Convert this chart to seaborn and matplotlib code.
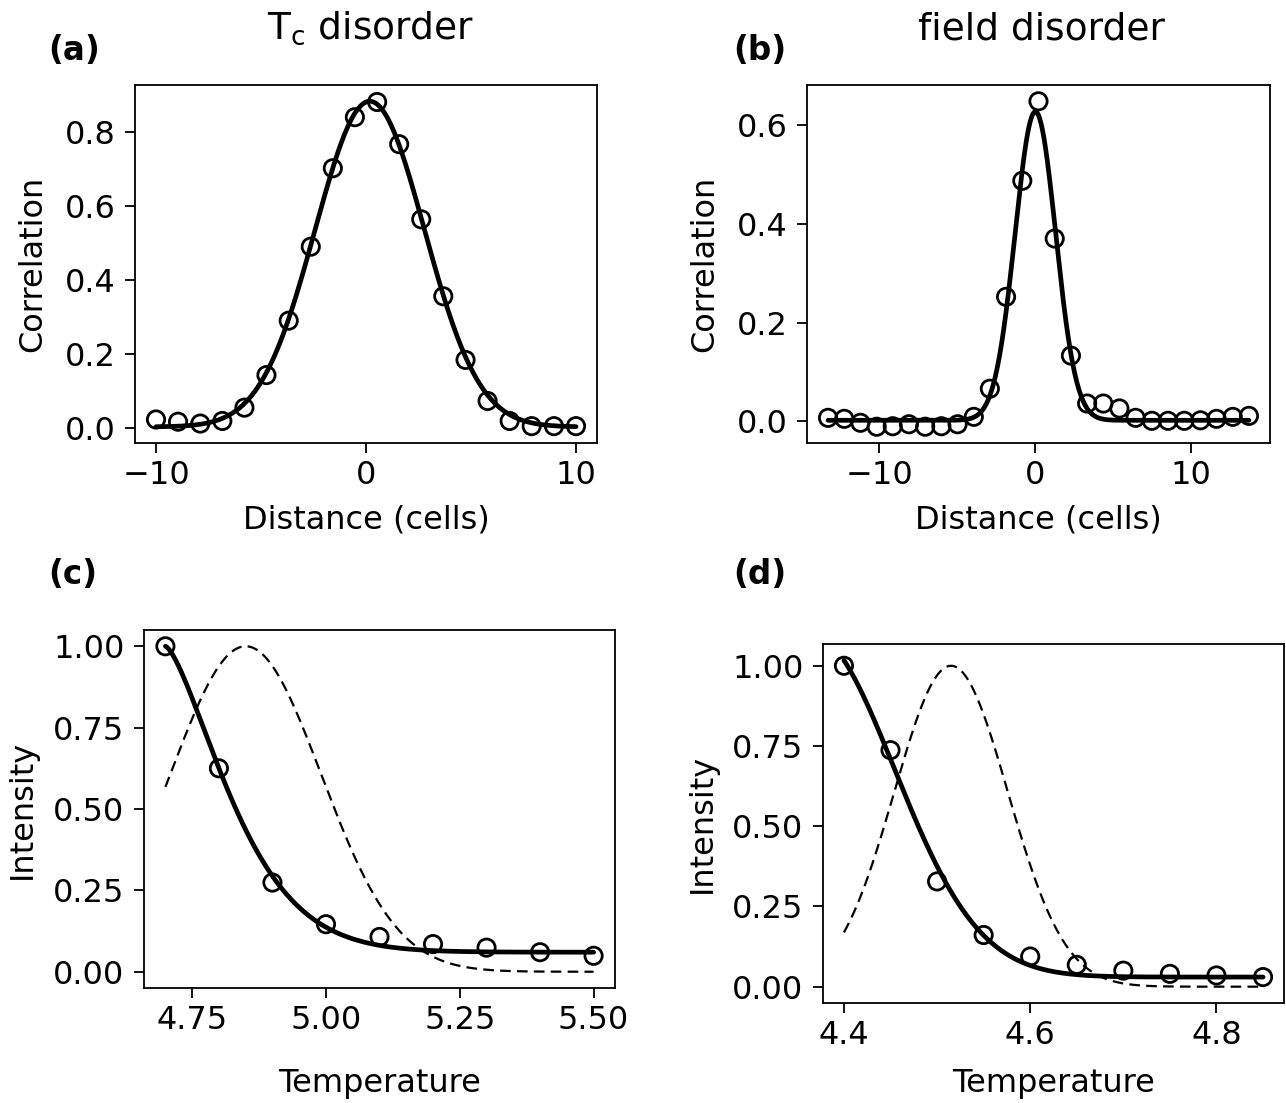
import numpy as np
import pandas as pd
import matplotlib
matplotlib.use("Agg")
import matplotlib.pyplot as plt
import seaborn as sns
from matplotlib.ticker import FormatStrFormatter

# ---------------- data ----------------
# (a) Tc disorder: correlation vs distance
a_x = [-10.0, -8.95, -7.89, -6.84, -5.79, -4.74, -3.68, -2.63, -1.58, -0.53,
       0.53, 1.58, 2.63, 3.68, 4.74, 5.79, 6.84, 7.89, 8.95, 10.0]
a_y = [0.024, 0.018, 0.013, 0.020, 0.056, 0.144, 0.291, 0.491, 0.703, 0.841,
       0.882, 0.768, 0.565, 0.357, 0.185, 0.074, 0.020, 0.006, 0.006, 0.006]
a_fit = dict(amp=0.88, mu=0.18, sigma=2.6, base=0.004)

# (b) field disorder: correlation vs distance
b_x = [-13.30, -12.26, -11.22, -10.18, -9.15, -8.11, -7.07, -6.03, -4.99, -3.95,
       -2.92, -1.88, -0.84, 0.20, 1.24, 2.28, 3.32, 4.36, 5.39, 6.43,
       7.47, 8.51, 9.55, 10.59, 11.62, 12.66, 13.70]
b_y = [0.007, 0.005, -0.003, -0.011, -0.010, -0.006, -0.011, -0.010, -0.006, 0.009,
       0.066, 0.252, 0.487, 0.648, 0.370, 0.133, 0.036, 0.036, 0.026, 0.007,
       0.001, 0.001, 0.001, 0.002, 0.005, 0.009, 0.011]
b_fit = dict(amp=0.625, mu=0.0, sigma=1.3, base=0.002)

# (c) Tc disorder: intensity vs temperature
c_x = [4.70, 4.80, 4.90, 5.00, 5.10, 5.20, 5.30, 5.40, 5.50]
c_y = [1.000, 0.625, 0.274, 0.146, 0.107, 0.085, 0.074, 0.060, 0.049]
c_fit = dict(amp=0.94, x0=4.70, rate=14.35, power=1.45, base=0.06)
c_dist = dict(amp=1.0, mu=4.85, sigma=0.141)

# (d) field disorder: intensity vs temperature
d_x = [4.40, 4.45, 4.50, 4.55, 4.60, 4.65, 4.70, 4.75, 4.80, 4.85]
d_y = [1.000, 0.737, 0.328, 0.161, 0.094, 0.068, 0.050, 0.040, 0.035, 0.030]
d_fit = dict(amp=1.072, mu=4.363, sigma=0.091, base=0.03)
d_dist = dict(amp=1.0, mu=4.515, sigma=0.061)

panel_labels = ["(a)", "(b)", "(c)", "(d)"]
titles = [r"$\mathregular{T_c}$ disorder", "field disorder"]


def gauss(x, amp, mu, sigma, base=0.0):
    return amp * np.exp(-(x - mu) ** 2 / (2 * sigma ** 2)) + base


def stretched(x, amp, x0, rate, power, base):
    return amp * np.exp(-rate * np.clip(x - x0, 0, None) ** power) + base


# ---------------- style ----------------
sns.set_theme(style="ticks", rc={
    "axes.linewidth": 1.3,
    "axes.edgecolor": "black",
    "axes.labelcolor": "black",
    "text.color": "black",
    "xtick.major.size": 7,
    "ytick.major.size": 7,
    "xtick.major.width": 1.3,
    "ytick.major.width": 1.3,
    "xtick.color": "black",
    "ytick.color": "black",
    "xtick.labelcolor": "black",
    "ytick.labelcolor": "black",
    "xtick.labelsize": 23,
    "ytick.labelsize": 23,
    "axes.labelsize": 23,
    "xtick.major.pad": 5,
    "ytick.major.pad": 7,
})
plt.rcParams["font.family"] = ["DejaVu Sans"]
plt.rcParams["mathtext.default"] = "regular"

W, H = 1286, 1103
fig = plt.figure(figsize=(W / 100, H / 100), dpi=100)


def box(l, r, t, b):
    return [l / W, 1 - b / H, (r - l) / W, (b - t) / H]


ax_a = fig.add_axes(box(135, 597, 85, 443))
ax_b = fig.add_axes(box(807, 1270, 85, 443))
ax_c = fig.add_axes(box(144, 615, 630, 988))
ax_d = fig.add_axes(box(823, 1284, 644, 1003))

circle_kw = dict(s=155, facecolor="none", edgecolor="black", linewidth=2.0, zorder=3)
line_kw = dict(color="black", linewidth=3.4, zorder=2)
dash_kw = dict(color="black", linewidth=1.6, zorder=2)

# (a)
xa = np.linspace(min(a_x), max(a_x), 400)
sns.lineplot(x=xa, y=gauss(xa, **a_fit), ax=ax_a, **line_kw)
sns.scatterplot(x=a_x, y=a_y, ax=ax_a, **circle_kw)
ax_a.set_xticks([-10, 0, 10])
ax_a.set_yticks([0.0, 0.2, 0.4, 0.6, 0.8])
ax_a.yaxis.set_major_formatter(FormatStrFormatter("%.1f"))

# (b)
xb = np.linspace(min(b_x), max(b_x), 600)
sns.lineplot(x=xb, y=gauss(xb, **b_fit), ax=ax_b, **line_kw)
sns.scatterplot(x=b_x, y=b_y, ax=ax_b, **circle_kw)
ax_b.set_xticks([-10, 0, 10])
ax_b.set_yticks([0.0, 0.2, 0.4, 0.6])
ax_b.yaxis.set_major_formatter(FormatStrFormatter("%.1f"))

# (c)
xc = np.linspace(min(c_x), max(c_x), 400)
sns.lineplot(x=xc, y=gauss(xc, **c_dist), ax=ax_c, linestyle=(0, (4.8, 2.8)), **dash_kw)
sns.lineplot(x=xc, y=stretched(xc, **c_fit), ax=ax_c, **line_kw)
sns.scatterplot(x=c_x, y=c_y, ax=ax_c, **circle_kw)
ax_c.set_xticks([4.75, 5.00, 5.25, 5.50])
ax_c.set_yticks([0.0, 0.25, 0.5, 0.75, 1.0])
ax_c.xaxis.set_major_formatter(FormatStrFormatter("%.2f"))
ax_c.yaxis.set_major_formatter(FormatStrFormatter("%.2f"))

# (d)
xd = np.linspace(min(d_x), max(d_x), 400)
sns.lineplot(x=xd, y=gauss(xd, **d_dist), ax=ax_d, linestyle=(0, (4.8, 2.8)), **dash_kw)
sns.lineplot(x=xd, y=gauss(xd, **d_fit), ax=ax_d, **line_kw)
sns.scatterplot(x=d_x, y=d_y, ax=ax_d, **circle_kw)
ax_d.set_xticks([4.4, 4.6, 4.8])
ax_d.set_yticks([0.0, 0.25, 0.5, 0.75, 1.0])
ax_d.xaxis.set_major_formatter(FormatStrFormatter("%.1f"))
ax_d.yaxis.set_major_formatter(FormatStrFormatter("%.2f"))

for ax in (ax_a, ax_b, ax_c, ax_d):
    for sp in ax.spines.values():
        sp.set_visible(True)
        sp.set_color("black")

ax_a.set_xlabel("Distance (cells)")
ax_b.set_xlabel("Distance (cells)")
ax_a.set_ylabel("Correlation")
ax_b.set_ylabel("Correlation")
ax_c.set_xlabel("Temperature")
ax_d.set_xlabel("Temperature")
ax_c.set_ylabel("Intensity")
ax_d.set_ylabel("Intensity")

ax_a.xaxis.set_label_coords(0.5, -0.173)
ax_b.xaxis.set_label_coords(0.5, -0.173)
ax_c.xaxis.set_label_coords(0.5, -0.223)
ax_d.xaxis.set_label_coords(0.5, -0.181)
ax_a.yaxis.set_label_coords(-0.188, 0.5)
ax_b.yaxis.set_label_coords(-0.188, 0.5)
ax_c.yaxis.set_label_coords(-0.225, 0.5)
ax_d.yaxis.set_label_coords(-0.228, 0.5)

# titles and panel letters
fig.text(371 / W, 1 - 39 / H, titles[0], ha="center", va="baseline", fontsize=27, color="black")
fig.text(1041 / W, 1 - 39 / H, titles[1], ha="center", va="baseline", fontsize=27, color="black")
for lab, (px, py) in zip(panel_labels, [(48, 51), (733, 51), (48, 575), (733, 575)]):
    fig.text(px / W, 1 - py / H, lab, ha="left", va="center",
             fontsize=23.5, fontweight="bold", color="black")

fig.savefig("out.png", dpi=100)
